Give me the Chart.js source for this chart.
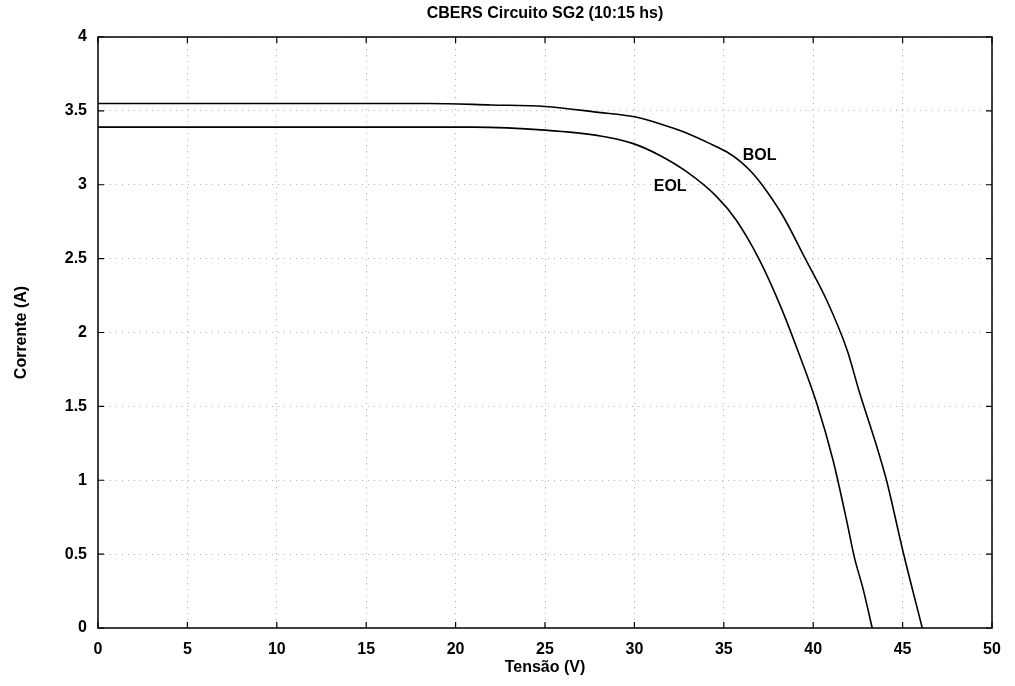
<!DOCTYPE html>
<html>
<head>
<meta charset="utf-8">
<script src="https://cdn.jsdelivr.net/npm/chart.js@4/dist/chart.umd.min.js"></script>
<style>
  body { margin: 0; background: #fff; }
  #wrap { width: 1015px; height: 686px; }
</style>
</head>
<body>
<div id="wrap"><canvas id="myChart" width="1015" height="686"></canvas></div>
<script>
// curve values
var bolV = [0, 10, 18.5, 22, 25, 28, 30, 31.5, 32.7, 34.2, 35.2, 35.9, 36.6, 37.2, 38.3, 39.6, 40.75, 41.9, 42.6, 43.5, 44.1, 45.0, 46.1];
var bolI = [3.55, 3.55, 3.55, 3.54, 3.53, 3.49, 3.46, 3.41, 3.36, 3.28, 3.22, 3.16, 3.08, 2.99, 2.79, 2.49, 2.22, 1.88, 1.59, 1.25, 1.00, 0.53, 0];

var eolV = [0, 10, 21, 25, 28.1, 29.9, 31.4, 32.9, 34.6, 35.7, 37.0, 38.2, 39.1, 40.2, 41.1, 41.9, 42.3, 42.8, 43.3];
var eolI = [3.39, 3.39, 3.39, 3.37, 3.33, 3.28, 3.20, 3.09, 2.92, 2.76, 2.49, 2.17, 1.89, 1.52, 1.14, 0.71, 0.48, 0.26, 0];

var curveNames = ['BOL', 'EOL'];
var labelPos = [[37.0, 3.20], [32.0, 2.99]];

var titleText = 'CBERS Circuito SG2 (10:15 hs)';
var xTitle = 'Tensão (V)';
var yTitle = 'Corrente (A)';

var fontFam = '"Liberation Sans", Arial, Helvetica, sans-serif';

function toPoints(xs, ys) {
    return xs.map(function (x, i) {
        return { x: x, y: ys[i] };
    });
}

// title, axis titles, box, inward ticks and curve names
var decorations = {
    id: 'decorations',
    afterDraw: function (chart) {
        var ctx = chart.ctx;
        var a = chart.chartArea;
        var xs = chart.scales.x;
        var ys = chart.scales.y;
        ctx.save();

        ctx.strokeStyle = '#000';
        ctx.lineWidth = 1.5;
        ctx.strokeRect(a.left, a.top, a.right - a.left, a.bottom - a.top);

        ctx.lineWidth = 1.2;
        ctx.beginPath();
        xs.ticks.forEach(function (t) {
            var px = xs.getPixelForValue(t.value);
            ctx.moveTo(px, a.bottom);
            ctx.lineTo(px, a.bottom - 6);
            ctx.moveTo(px, a.top);
            ctx.lineTo(px, a.top + 6);
        });
        ys.ticks.forEach(function (t) {
            var py = ys.getPixelForValue(t.value);
            ctx.moveTo(a.left, py);
            ctx.lineTo(a.left + 6, py);
            ctx.moveTo(a.right, py);
            ctx.lineTo(a.right - 6, py);
        });
        ctx.stroke();

        ctx.fillStyle = '#000';
        ctx.textAlign = 'center';
        ctx.textBaseline = 'middle';
        ctx.font = 'bold 16px ' + fontFam;
        ctx.fillText(titleText, (a.left + a.right) / 2, 14);
        ctx.fillText(xTitle, (a.left + a.right) / 2, 668);

        ctx.save();
        ctx.translate(22, (a.top + a.bottom) / 2);
        ctx.rotate(-Math.PI / 2);
        ctx.fillText(yTitle, 0, 0);
        ctx.restore();

        curveNames.forEach(function (n, i) {
            ctx.fillText(n, xs.getPixelForValue(labelPos[i][0]), ys.getPixelForValue(labelPos[i][1]));
        });
        ctx.restore();
    }
};

const ctx = document.getElementById('myChart').getContext('2d');

var config = {
    type: 'line',
    data: {
        datasets: [{
            label: curveNames[0],
            data: toPoints(bolV, bolI),
            borderColor: '#000',
            borderWidth: 1.6,
            pointRadius: 0,
            cubicInterpolationMode: 'monotone'
        }, {
            label: curveNames[1],
            data: toPoints(eolV, eolI),
            borderColor: '#000',
            borderWidth: 1.6,
            pointRadius: 0,
            cubicInterpolationMode: 'monotone'
        }]
    },
    options: {
        responsive: false,
        animation: false,
        layout: {
            padding: { top: 37, right: 23, left: 0, bottom: 0 }
        },
        plugins: {
            legend: { display: false },
            title: { display: false },
            tooltip: { enabled: false }
        },
        scales: {
            x: {
                type: 'linear',
                min: 0,
                max: 50,
                ticks: {
                    stepSize: 5,
                    padding: 12,
                    color: '#000',
                    font: { family: fontFam, size: 16, weight: 'bold' }
                },
                grid: { color: 'rgba(0,0,0,0.3)', drawTicks: false },
                border: { display: false, dash: [1, 5] },
                afterFit: function (scale) { scale.height = 58; }
            },
            y: {
                type: 'linear',
                min: 0,
                max: 4,
                ticks: {
                    stepSize: 0.5,
                    padding: 11,
                    color: '#000',
                    font: { family: fontFam, size: 16, weight: 'bold' },
                    callback: function (value) { return String(value); }
                },
                grid: { color: 'rgba(0,0,0,0.3)', drawTicks: false },
                border: { display: false, dash: [1, 5] },
                afterFit: function (scale) { scale.width = 98; }
            }
        }
    },
    plugins: [decorations]
};

let myChart = new Chart(ctx, config);
</script>
</body>
</html>
